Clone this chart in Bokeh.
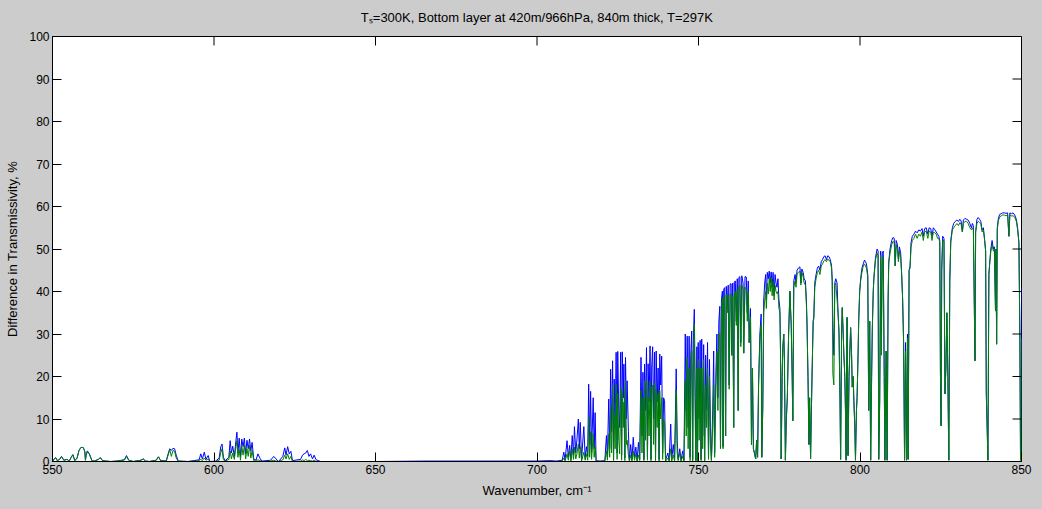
import math
from bokeh.plotting import figure
from bokeh.models import FixedTicker, Range1d
from bokeh.embed import file_html
from bokeh.resources import INLINE

# ---------------- data ----------------
title_text = "T\u209b=300K, Bottom layer at 420m/966hPa, 840m thick, T=297K"
x_label = "Wavenumber, cm\u207b\u00b9"
y_label = "Difference in Transmissivity, %"
x_ticks = [550, 600, 650, 700, 750, 800, 850]
y_ticks = [0, 10, 20, 30, 40, 50, 60, 70, 80, 90, 100]

# region A: 550-700 cm-1 (weak features)
wn_a = [
    550.0, 550.5, 551.0, 551.5, 552.2, 552.8, 553.5, 554.5,
    555.2, 555.8, 556.3, 556.9, 557.6, 558.2, 558.8, 559.5,
    560.0, 560.2, 560.4, 560.8, 561.4, 562.2, 563.0, 564.2,
    564.8, 565.5, 566.5, 568.0, 570.0, 572.3, 572.9, 573.6,
    575.0, 577.4, 578.1, 578.8, 580.0, 582.1, 582.8, 583.5,
    585.2, 585.8, 586.3, 586.8, 587.3, 587.8, 588.3, 588.9,
    592.0, 595.4, 595.9, 596.4, 597.0, 597.5, 598.2, 598.7,
    600.5, 601.6, 602.1, 602.5, 602.9, 603.5, 604.6, 605.0,
    605.4, 605.8, 606.3, 606.8, 607.1, 607.4, 607.8, 608.2,
    608.6, 609.0, 609.4, 609.8, 610.2, 610.6, 611.0, 611.4,
    611.8, 612.3, 613.0, 613.6, 614.2, 614.8, 617.5, 618.5,
    619.2, 620.0, 621.3, 621.9, 622.3, 622.8, 623.3, 623.8,
    624.3, 626.8, 627.4, 627.9, 628.4, 628.9, 629.4, 629.9,
    630.5, 631.0, 631.6, 633.0, 650.0, 665.0, 680.0, 695.0,
]
blue_a = [
    0.0, 0.6, 0.9, 0.2, 0.5, 1.2, 0.3, 0.5,
    0.1, 1.0, 1.6, 0.2, 0.8, 2.6, 3.3, 3.3,
    2.4, 0.3, 1.5, 2.5, 1.8, 0.2, 0.1, 0.5,
    0.9, 0.2, 0.1, 0.0, 0.1, 0.4, 1.4, 0.3,
    0.0, 0.3, 0.6, 0.1, 0.0, 0.3, 1.1, 0.2,
    0.1, 1.8, 3.0, 2.6, 3.1, 3.0, 1.5, 0.1,
    0.0, 0.4, 1.8, 0.6, 2.2, 0.5, 1.4, 0.0,
    0.1, 0.8, 3.5, 4.1, 1.0, 0.2, 1.0, 4.9,
    2.0, 3.6, 1.2, 5.0, 6.9, 2.0, 5.5, 1.2,
    5.3, 3.5, 5.5, 1.8, 5.0, 3.0, 5.3, 2.5,
    4.5, 0.6, 0.3, 1.8, 0.8, 0.1, 0.3, 1.2,
    0.6, 0.0, 1.2, 3.2, 1.5, 3.5, 1.8, 2.4,
    0.2, 0.5, 1.5, 1.8, 2.0, 2.6, 1.2, 1.8,
    0.6, 1.5, 0.4, 0.0, 0.0, 0.1, 0.1, 0.1,
]
green_a = [
    0.0, 0.6, 0.9, 0.2, 0.5, 1.2, 0.3, 0.5,
    0.1, 1.0, 1.6, 0.2, 0.8, 2.6, 3.3, 3.3,
    2.4, 0.3, 1.5, 2.3, 1.8, 0.2, 0.1, 0.5,
    0.9, 0.2, 0.1, 0.0, 0.1, 0.4, 1.2, 0.3,
    0.0, 0.3, 0.6, 0.1, 0.0, 0.3, 1.1, 0.2,
    0.1, 1.5, 2.8, 1.2, 2.6, 2.4, 0.8, 0.1,
    0.0, 0.2, 0.5, 0.2, 0.8, 0.3, 0.6, 0.0,
    0.0, 0.3, 2.1, 3.0, 0.4, 0.1, 0.5, 2.5,
    0.6, 2.0, 0.5, 3.5, 4.9, 1.0, 2.8, 0.3,
    3.6, 1.5, 3.9, 0.6, 3.0, 1.2, 3.8, 0.8,
    2.6, 0.2, 0.1, 0.4, 0.2, 0.0, 0.1, 0.3,
    0.1, 0.0, 0.4, 1.5, 0.6, 1.8, 0.5, 1.2,
    0.0, 0.1, 0.4, 0.2, 0.5, 0.2, 0.3, 0.2,
    0.1, 0.3, 0.0, 0.0, 0.0, 0.0, 0.0, 0.0,
]

# region B: 700-770 cm-1
wn_b = [
    700.0, 704.0, 706.0, 707.8, 708.3, 708.7, 709.3, 709.7,
    710.1, 710.5, 710.9, 711.3, 711.6, 712.0, 712.4, 712.8,
    713.1, 713.4, 713.8, 714.5, 714.9, 715.3, 715.7, 716.0,
    716.3, 716.6, 716.9, 717.4, 717.7, 718.0, 718.3, 719.5,
    721.0, 721.5, 721.8, 722.2, 722.5, 722.8, 723.1, 723.4,
    723.7, 723.9, 724.2, 724.5, 724.8, 725.0, 725.3, 725.6,
    725.9, 726.2, 726.4, 726.7, 726.9, 727.2, 727.4, 727.7,
    727.9, 728.3, 728.6, 729.0, 729.4, 729.8, 730.2, 730.6,
    731.0, 731.4, 731.8, 732.2, 732.5, 732.8, 733.1, 733.3,
    733.6, 733.9, 734.2, 734.4, 734.7, 735.0, 735.3, 735.5,
    735.8, 736.1, 736.4, 736.7, 736.9, 737.2, 737.5, 737.8,
    738.0, 738.3, 738.6, 738.9, 739.2, 739.5, 739.8, 740.5,
    740.9, 741.4, 741.7, 742.2, 742.6, 743.1, 743.4, 743.7,
    744.2, 744.6, 745.1, 745.5, 745.9, 746.2, 746.5, 746.8,
    747.1, 747.4, 747.6, 747.9, 748.2, 748.4, 748.7, 749.0,
    749.2, 749.5, 749.7, 749.9, 750.2, 750.5, 750.8, 751.0,
    751.3, 751.6, 751.9, 752.2, 752.5, 752.8, 753.1, 753.4,
    753.7, 754.0, 754.4, 754.7, 755.0, 755.4, 755.7, 756.0,
    756.3, 756.6, 756.8, 757.1, 757.4, 757.6, 757.8, 758.1,
    758.4, 758.6, 758.9, 759.2, 759.5, 759.8, 760.1, 760.3,
    760.6, 760.9, 761.1, 761.4, 761.7, 762.0, 762.3, 762.5,
    762.8, 763.1, 763.4, 763.8, 764.0, 764.4, 764.8, 765.1,
    765.4, 765.7, 766.1, 766.4, 766.7, 767.0, 767.3, 767.7,
    768.0, 768.3, 768.6, 769.0, 769.4, 769.6, 769.9,
]
blue_b = [
    0.1, 0.2, 0.1, 0.3, 2.2, 0.4, 4.9, 1.0,
    3.8, 0.5, 6.1, 1.5, 8.2, 2.0, 5.5, 10.0,
    3.0, 9.2, 0.5, 8.2, 1.0, 3.5, 1.2, 18.2,
    4.0, 16.5, 2.0, 15.0, 3.0, 11.5, 0.2, 0.1,
    0.2, 6.1, 1.0, 14.7, 3.0, 21.7, 7.0, 23.7,
    0.5, 19.4, 8.0, 25.7, 2.0, 25.9, 12.0, 8.0,
    25.7, 1.5, 25.8, 15.0, 22.9, 0.8, 24.5, 10.0,
    19.0, 7.0, 0.3, 4.0, 0.5, 5.7, 1.0, 3.4,
    0.2, 4.5, 0.5, 24.5, 6.0, 21.0, 0.5, 22.9,
    12.0, 26.8, 1.0, 23.0, 14.0, 27.2, 0.5, 22.0,
    27.0, 10.0, 25.7, 0.8, 26.0, 14.0, 22.0, 0.5,
    25.3, 18.0, 24.8, 2.0, 15.0, 14.3, 0.3, 2.0,
    0.3, 8.8, 0.5, 4.0, 0.3, 21.8, 5.0, 0.5,
    3.0, 0.3, 2.5, 0.3, 30.0, 12.0, 29.5, 8.0,
    29.5, 1.0, 25.0, 30.7, 0.5, 28.5, 35.8, 15.0,
    0.3, 27.0, 0.5, 28.0, 10.0, 28.5, 0.5, 28.8,
    6.0, 27.5, 0.3, 25.0, 12.0, 28.0, 1.0, 24.0,
    8.0, 0.4, 12.0, 26.0, 2.0, 21.0, 30.0, 15.0,
    33.0, 36.5, 5.0, 38.0, 40.1, 3.5, 40.5, 40.9,
    6.0, 41.2, 36.0, 41.5, 18.0, 41.8, 41.8, 25.0,
    42.0, 8.0, 42.2, 42.5, 33.0, 43.0, 12.0, 43.3,
    43.5, 28.0, 43.7, 42.0, 25.5, 43.5, 43.4, 35.0,
    42.5, 28.0, 36.0, 4.0, 22.0, 3.0, 2.0, 0.6,
    5.0, 1.0, 18.0, 30.0, 34.7, 1.0, 12.8,
]
green_b = [
    0.0, 0.0, 0.0, 0.1, 0.8, 0.1, 1.8, 0.3,
    2.6, 0.1, 3.0, 0.5, 3.4, 0.6, 2.0, 4.1,
    0.8, 3.5, 0.1, 2.2, 0.3, 1.8, 0.3, 10.4,
    1.0, 7.0, 0.5, 6.5, 1.0, 3.5, 0.1, 0.0,
    0.1, 2.5, 0.3, 6.5, 1.0, 12.8, 2.0, 17.9,
    0.2, 11.0, 3.0, 18.2, 0.5, 16.0, 5.0, 1.8,
    17.5, 0.3, 16.5, 8.0, 14.0, 0.2, 19.0, 4.0,
    5.0, 1.5, 0.1, 1.5, 0.1, 2.5, 0.3, 1.8,
    0.1, 1.5, 0.2, 16.7, 2.0, 15.0, 0.2, 19.0,
    5.0, 19.0, 0.3, 15.0, 6.0, 19.0, 0.2, 17.5,
    18.0, 4.0, 18.5, 0.2, 17.0, 8.0, 16.0, 0.1,
    16.7, 10.0, 15.0, 0.5, 10.0, 9.0, 0.1, 0.8,
    0.1, 3.0, 0.1, 1.5, 0.1, 16.7, 2.0, 0.2,
    2.0, 0.1, 1.2, 0.1, 19.0, 6.0, 24.5, 3.0,
    22.0, 0.2, 18.0, 26.0, 0.1, 21.0, 32.3, 8.0,
    0.1, 22.0, 0.1, 24.0, 5.0, 22.0, 0.2, 22.0,
    3.0, 24.0, 0.1, 18.0, 8.0, 22.0, 0.5, 20.0,
    4.0, 0.2, 8.0, 18.0, 1.0, 18.0, 26.0, 12.0,
    30.0, 30.0, 3.0, 34.0, 38.5, 3.0, 38.6, 39.0,
    6.0, 39.4, 35.0, 39.0, 17.0, 39.4, 39.4, 25.0,
    39.0, 8.0, 39.5, 40.0, 32.0, 40.5, 12.0, 41.0,
    41.5, 27.0, 41.5, 40.5, 25.5, 41.0, 40.5, 33.0,
    40.0, 28.0, 34.0, 4.0, 22.0, 3.0, 2.0, 0.6,
    5.0, 1.0, 18.0, 28.0, 32.3, 1.0, 12.8,
]

# region C: 770-850 cm-1
wn_c = [
    770.2, 770.5, 770.8, 771.0, 771.3, 771.6, 771.9, 772.2,
    772.5, 772.8, 773.1, 773.4, 773.7, 774.0, 774.3, 774.6,
    774.9, 775.2, 775.4, 775.6, 775.9, 776.1, 776.4, 776.6,
    776.9, 777.2, 777.5, 777.9, 778.3, 778.5, 778.7, 779.0,
    779.2, 779.5, 779.9, 780.2, 780.5, 780.9, 781.4, 781.7,
    782.0, 782.4, 782.7, 783.1, 783.4, 783.6, 783.9, 784.2,
    784.4, 784.7, 784.9, 785.2, 785.5, 785.7, 786.0, 786.4,
    786.8, 787.2, 787.6, 788.0, 788.4, 788.8, 789.2, 789.6,
    790.0, 790.4, 790.8, 791.2, 791.4, 791.6, 791.9, 792.2,
    792.5, 792.9, 793.2, 793.5, 793.8, 794.0, 794.3, 794.5,
    794.8, 795.0, 795.3, 795.5, 795.7, 795.9, 796.0, 796.3,
    796.6, 797.1, 797.4, 797.6, 797.9, 798.1, 798.4, 798.6,
    798.9, 799.1, 799.4, 799.6, 799.9, 800.2, 800.6, 801.0,
    801.4, 801.7, 802.0, 802.4, 802.7, 803.0, 803.3, 803.6,
    803.8, 804.1, 804.3, 804.8, 805.3, 805.6, 805.8, 806.1,
    806.4, 806.6, 806.9, 807.2, 807.5, 807.7, 807.9, 808.1,
    808.4, 808.7, 808.9, 809.3, 809.8, 810.2, 810.6, 810.9,
    811.2, 811.6, 811.9, 812.2, 812.6, 812.9, 813.2, 813.5,
    813.8, 814.1, 814.4, 814.7, 814.9, 815.2, 815.5, 815.8,
    816.2, 816.7, 817.2, 817.7, 818.2, 818.7, 819.2, 819.6,
    820.0, 820.5, 821.0, 821.4, 821.9, 822.3, 822.7, 823.2,
    823.6, 824.0, 824.4, 824.7, 824.9, 825.1, 825.3, 825.6,
    826.0, 826.3, 826.6, 826.9, 827.2, 827.5, 827.8, 828.1,
    828.6, 829.0, 829.5, 830.0, 830.5, 830.9, 831.3, 831.7,
    832.0, 832.5, 833.0, 833.5, 834.0, 834.5, 834.8, 835.1,
    835.4, 835.6, 835.8, 836.2, 836.6, 837.0, 837.4, 837.8,
    838.2, 838.6, 838.9, 839.1, 839.3, 839.6, 839.9, 840.2,
    840.5, 840.9, 841.3, 841.6, 841.95, 842.1, 842.3, 842.5,
    842.8, 843.2, 843.7, 844.2, 844.7, 845.2, 845.7, 846.1,
    846.4, 846.9, 847.4, 847.9, 848.4, 848.8, 849.2, 849.5,
    849.7, 849.9, 850.0,
]
blue_c = [
    38.0, 42.0, 44.0, 38.0, 44.5, 43.0, 44.8, 42.0,
    44.6, 41.0, 44.5, 39.0, 44.0, 42.0, 41.0, 43.0,
    38.0, 36.0, 25.3, 0.6, 20.0, 26.8, 30.0, 24.0,
    0.3, 10.0, 15.1, 30.0, 40.1, 36.0, 32.3, 20.0,
    9.6, 42.5, 44.0, 42.0, 45.0, 45.5, 45.8, 42.0,
    45.3, 44.5, 43.0, 42.5, 38.0, 32.3, 20.0, 4.0,
    15.0, 0.6, 10.0, 22.0, 33.0, 34.0, 42.0, 44.0,
    45.5, 46.0, 45.0, 47.0, 47.5, 48.2, 48.4, 47.5,
    48.4, 48.2, 47.5, 46.0, 42.5, 31.5, 25.0, 42.0,
    43.0, 42.0, 35.0, 30.4, 15.0, 0.5, 30.0, 36.2,
    30.0, 25.3, 20.0, 12.0, 0.3, 25.0, 33.9, 1.4,
    20.0, 31.5, 25.0, 17.5, 20.0, 14.3, 8.0, 0.3,
    12.0, 15.1, 25.0, 33.1, 40.0, 43.0, 45.5, 46.5,
    47.4, 47.0, 46.5, 44.0, 12.0, 33.0, 0.3, 20.0,
    30.7, 40.0, 43.3, 48.0, 50.0, 49.5, 0.5, 14.0,
    49.5, 30.0, 49.0, 49.5, 20.0, 0.3, 15.0, 26.0,
    0.3, 38.0, 47.0, 50.0, 52.0, 52.7, 52.5, 46.0,
    52.0, 51.0, 47.5, 50.5, 49.0, 44.0, 38.2, 28.0,
    0.3, 28.0, 0.3, 30.0, 0.5, 45.0, 46.0, 51.5,
    53.0, 53.5, 54.2, 53.8, 54.5, 54.2, 54.8, 53.0,
    54.8, 55.0, 53.5, 55.0, 54.8, 53.0, 55.0, 54.5,
    54.0, 53.5, 53.0, 52.0, 21.0, 8.4, 45.0, 53.0,
    52.5, 15.9, 22.0, 35.0, 20.0, 0.3, 42.5, 52.0,
    55.0, 56.0, 56.5, 56.8, 56.5, 57.0, 56.6, 54.0,
    56.8, 57.2, 57.0, 56.8, 56.0, 55.0, 56.0, 55.5,
    36.0, 23.7, 54.0, 57.0, 57.4, 57.0, 56.5, 54.5,
    55.0, 52.0, 49.5, 15.9, 10.0, 0.3, 44.0, 47.2,
    50.0, 52.0, 50.0, 50.5, 35.4, 50.0, 27.6, 55.0,
    57.0, 58.1, 58.3, 58.5, 58.5, 58.4, 58.5, 53.0,
    58.5, 58.3, 58.5, 58.0, 57.0, 55.0, 51.5, 28.8,
    0.3, 0.5, 41.0,
]
green_c = [
    35.0, 38.0, 40.0, 36.0, 42.0, 39.4, 43.0, 40.0,
    43.3, 39.0, 42.5, 38.0, 41.5, 40.0, 39.5, 40.0,
    36.0, 35.0, 25.3, 0.6, 20.0, 26.8, 30.0, 24.0,
    0.3, 10.0, 15.1, 30.0, 40.1, 36.0, 32.3, 20.0,
    9.6, 41.0, 42.5, 41.0, 44.0, 44.5, 44.8, 41.5,
    44.5, 43.5, 42.0, 41.5, 37.0, 32.3, 20.0, 4.0,
    15.0, 0.6, 10.0, 22.0, 33.0, 33.5, 41.0, 43.0,
    44.5, 45.0, 44.0, 46.0, 46.5, 47.2, 47.5, 47.0,
    47.6, 47.4, 47.0, 45.5, 42.5, 20.6, 18.0, 41.5,
    42.0, 38.0, 35.0, 30.4, 15.0, 0.5, 30.0, 36.2,
    30.0, 25.3, 20.0, 12.0, 0.3, 25.0, 33.9, 1.4,
    20.0, 31.5, 25.0, 17.5, 20.0, 14.3, 8.0, 0.3,
    12.0, 15.1, 25.0, 33.1, 40.0, 42.5, 44.5, 46.0,
    46.5, 46.0, 45.5, 43.5, 12.0, 33.0, 0.3, 20.0,
    30.7, 40.0, 43.0, 47.5, 49.0, 48.5, 0.5, 14.0,
    48.5, 25.0, 47.0, 48.0, 20.0, 0.3, 15.0, 26.0,
    0.3, 38.0, 46.5, 49.0, 51.0, 51.8, 51.5, 46.0,
    51.0, 50.0, 47.0, 49.5, 48.0, 44.0, 38.2, 28.0,
    0.3, 26.0, 0.3, 29.0, 0.5, 45.0, 45.5, 50.5,
    52.0, 52.5, 53.5, 52.5, 53.5, 53.0, 54.0, 52.0,
    54.0, 54.2, 52.5, 54.2, 54.0, 52.0, 54.0, 53.8,
    53.5, 52.5, 52.5, 51.5, 21.0, 8.4, 45.0, 52.0,
    52.0, 15.9, 22.0, 35.0, 20.0, 0.3, 42.5, 51.5,
    54.5, 55.0, 55.5, 56.0, 55.5, 56.2, 55.8, 54.0,
    56.0, 56.5, 56.5, 56.0, 55.0, 54.5, 55.0, 54.5,
    36.0, 23.7, 54.0, 56.0, 56.5, 56.2, 56.0, 54.0,
    54.5, 52.0, 49.5, 15.9, 10.0, 0.3, 44.0, 47.0,
    49.5, 51.0, 49.5, 50.0, 35.4, 50.0, 27.6, 54.5,
    56.5, 57.5, 57.8, 58.0, 58.0, 57.8, 58.0, 53.0,
    58.0, 57.8, 57.8, 57.5, 56.5, 54.5, 51.5, 28.8,
    0.3, 0.5, 29.0,
]

wavenumber = wn_a + wn_b + wn_c
diff_blue = blue_a + blue_b + blue_c
diff_green = green_a + green_b + green_c

# ---------------- figure ----------------
FONT = "Liberation Sans"
BG = "#cccccc"
X0, X1 = 550, 850
Y0, Y1 = 0, 100

p = figure(width=1042, height=509,
           x_range=Range1d(X0, X1), y_range=Range1d(Y0, Y1),
           output_backend="svg", toolbar_location=None,
           min_border_left=52, min_border_right=21,
           min_border_top=35, min_border_bottom=48)
p.background_fill_color = "white"
p.border_fill_color = BG
p.outline_line_color = "black"
p.grid.visible = False

p.title.text = title_text
p.title.align = "center"
p.title.vertical_align = "top"
p.title.text_font = FONT
p.title.text_font_size = "13px"
p.title.text_font_style = "normal"
p.title.text_color = "black"
p.title.standoff = 19

p.line(wavenumber, diff_blue, line_color="#0000ff", line_width=1)
p.line(wavenumber, diff_green, line_color="#008000", line_width=1)

for ax, ticks, label in ((p.xaxis[0], x_ticks, x_label), (p.yaxis[0], y_ticks, y_label)):
    ax.ticker = FixedTicker(ticks=ticks)
    ax.major_tick_in = 9
    ax.major_tick_out = 0
    ax.minor_tick_line_color = None
    ax.major_tick_line_color = "black"
    ax.axis_line_color = "black"
    ax.major_label_text_font = FONT
    ax.major_label_text_color = "black"
    ax.major_label_text_font_size = "12px"
    ax.major_label_standoff = 3
    ax.axis_label = label
    ax.axis_label_text_font = FONT
    ax.axis_label_text_font_size = "13px"
    ax.axis_label_text_font_style = "normal"
    ax.axis_label_text_color = "black"
    ax.axis_label_standoff = 6

# inward tick marks on the top and right edges of the box (MATLAB style)
p.ray(x=x_ticks, y=[Y1] * len(x_ticks), length=9, length_units="screen",
      angle=-math.pi / 2, line_color="black", line_width=1)
p.ray(x=[X1] * len(y_ticks), y=y_ticks, length=9, length_units="screen",
      angle=math.pi, line_color="black", line_width=1)

html = file_html(p, INLINE, title="Difference in Transmissivity")
html = html.replace("</head>", "<style>html,body{background:%s;}</style></head>" % BG, 1)
open("out.html", "w").write(html)
